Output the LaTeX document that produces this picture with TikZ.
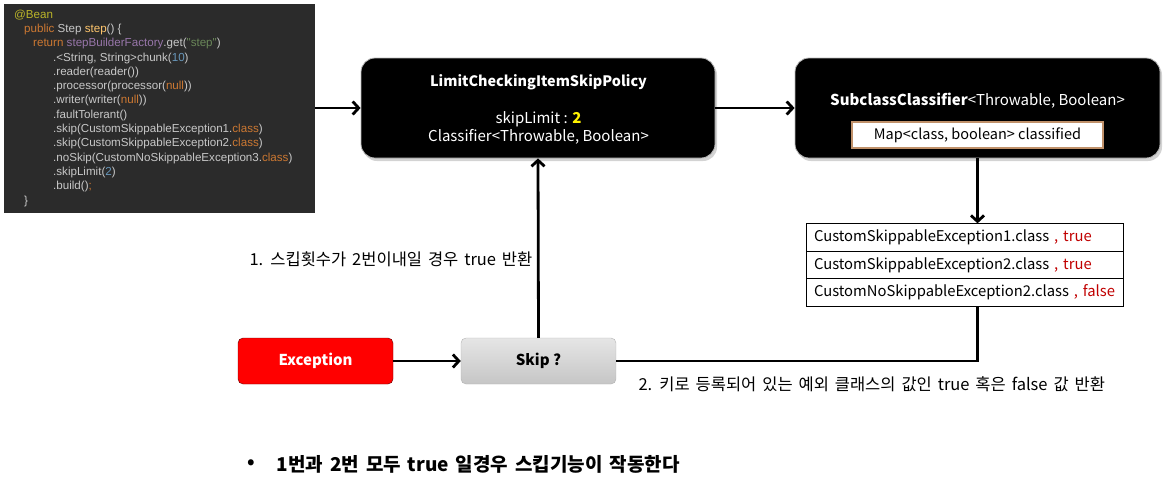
\documentclass[tikz,border=0pt]{standalone}
\usepackage{fontspec}
\setmainfont{Noto Sans CJK KR}
\newfontfamily\krnote{Noto Sans CJK KR}[WordSpace=1.6]
\newfontfamily\codefont{Liberation Sans}
\usetikzlibrary{shadows,arrows.meta}

\definecolor{codebg}{HTML}{2B2B2B}
\definecolor{codetxt}{HTML}{C8C8C8}
\definecolor{codekey}{HTML}{CC7832}
\definecolor{codeann}{HTML}{BBB529}
\definecolor{codefun}{HTML}{FFC66D}
\definecolor{codefld}{HTML}{9876AA}
\definecolor{codestr}{HTML}{6A8759}
\definecolor{codenum}{HTML}{6897BB}
\definecolor{valred}{HTML}{C00000}
\definecolor{mapline}{HTML}{C0916A}

\begin{document}
\begin{tikzpicture}[x=1pt, y=-1pt,
    darkbox/.style={rectangle, rounded corners=14pt, fill=black, draw=gray!55, line width=0.8pt, minimum height=100pt,
        drop shadow={opacity=0.35, shadow xshift=2pt, shadow yshift=-3pt}},
    boxtext/.style={text=white, font=\fontsize{15}{18}\selectfont},
    rowbox/.style={rectangle, draw=black, line width=0.8pt, minimum height=27.5pt, text width=301pt, inner xsep=8pt, align=left, font=\fontsize{14.8}{17}\selectfont},
    stepbox/.style={rectangle, rounded corners=5pt, minimum width=155pt, minimum height=46pt, font=\fontsize{15}{18}\selectfont\bfseries},
    myarrow/.style={-{Straight Barb[length=6pt, width=13pt]}, line width=2.8pt},
    myline/.style={line width=2.8pt},
    note/.style={anchor=west, font=\krnote\fontsize{16.5}{19}\selectfont},
]
\useasboundingbox (0,0) rectangle (1172,480);

% code panel
\node[rectangle, fill=codebg, minimum width=311pt, minimum height=209pt, anchor=north west] (panel) at (4,4) {};
\node[anchor=north west, inner sep=0pt, align=left, text=codetxt, font=\codefont\fontsize{11.6}{14.3}\selectfont] (code) at (14,9.5) {%
\textcolor{codeann}{@Bean}\\
\hspace*{10pt}\textcolor{codekey}{public} Step \textcolor{codefun}{step}() \{\\
\hspace*{19pt}\textcolor{codekey}{return} \textcolor{codefld}{stepBuilderFactory}.get(\textcolor{codestr}{"step"})\\
\hspace*{39pt}.<String, String>chunk(\textcolor{codenum}{10})\\
\hspace*{39pt}.reader(reader())\\
\hspace*{39pt}.processor(processor(\textcolor{codekey}{null}))\\
\hspace*{39pt}.writer(writer(\textcolor{codekey}{null}))\\
\hspace*{39pt}.faultTolerant()\\
\hspace*{39pt}.skip(CustomSkippableException1.\textcolor{codekey}{class})\\
\hspace*{39pt}.skip(CustomSkippableException2.\textcolor{codekey}{class})\\
\hspace*{39pt}.noSkip(CustomNoSkippableException3.\textcolor{codekey}{class})\\
\hspace*{39pt}.skipLimit(\textcolor{codenum}{2})\\
\hspace*{39pt}.build()\textcolor{codekey}{;}\\
\hspace*{10pt}\}};

% policy and classifier
\node[darkbox, minimum width=354pt] (policy) at (538,108) {};
\node[boxtext, font=\fontsize{14.4}{18}\selectfont\bfseries] (policyTitle) at (538.5,82) {LimitCheckingItemSkipPolicy};
\node[boxtext, align=center] (policyBody) at (538.5,128) {skipLimit : \textcolor{yellow}{\textbf{2}}\\Classifier<Throwable, Boolean>};

\node[darkbox, minimum width=365pt] (classifier) at (977.5,108) {};
\node[boxtext] (classifierTitle) at (977.5,101) {\textbf{SubclassClassifier}<Throwable, Boolean>};
\node[rectangle, fill=white, draw=mapline, line width=1.5pt, minimum width=251pt, minimum height=26pt, font=\fontsize{14.5}{17}\selectfont] (map) at (977.5,135) {Map<class, boolean> classified};

% classified table
\node[rowbox] (row1) at (964.5,237.5) {CustomSkippableException1.class~\textcolor{valred}{,~true}};
\node[rowbox] (row2) at (964.5,265) {CustomSkippableException2.class~\textcolor{valred}{,~true}};
\node[rowbox] (row3) at (964.5,292.5) {CustomNoSkippableException2.class~\textcolor{valred}{,~false}};

% exception and skip
\node[stepbox, fill=red, draw=red!40!black, text=white] (exception) at (315.5,361) {Exception};
\node[stepbox, top color=gray!20, bottom color=gray!45, draw=gray!60] (skip) at (538.5,361) {Skip ?};

\draw[myarrow] (panel.east |- policy.west) -- (policy.west);
\draw[myarrow] (policy.east) -- (classifier.west);
\draw[myarrow] (classifier.south) -- (classifier.south |- row1.north);
\draw[myarrow] (exception.east) -- (skip.west);
\draw[myarrow] (skip.north) -- (policy.south);
\draw[myline] (classifier.south |- row3.south) |- (skip.east);

\node[note] (note1) at (246,259) {1. 스킵횟수가 2번이내일 경우 true 반환};
\node[note] (note2) at (635,384) {2. 키로 등록되어 있는 예외 클래스의 값인 true 혹은 false 값 반환};
\node[note, font=\krnote\fontsize{19}{22}\selectfont\bfseries] (bullet) at (244,464) {•};
\node[note, font=\krnote\fontsize{19}{22}\selectfont\bfseries] (summary) at (273,464) {1번과 2번 모두 true 일경우 스킵기능이 작동한다};
\end{tikzpicture}
\end{document}
